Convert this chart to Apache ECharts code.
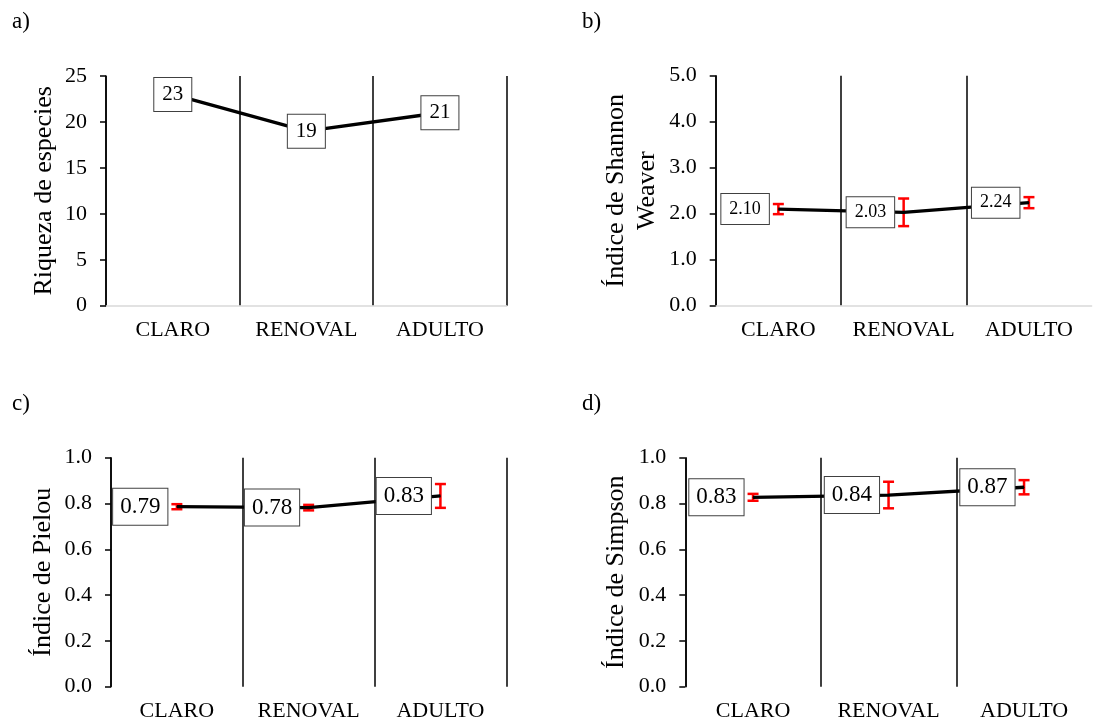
<!DOCTYPE html>
<html><head><meta charset="utf-8">
<script src="https://cdn.jsdelivr.net/npm/echarts@6/dist/echarts.min.js"></script>
<style>html,body{margin:0;padding:0;background:#fff}#c{width:1094px;height:728px}</style>
</head><body><div id="c"></div>
<script>
// ---- data ----
const categories = ['CLARO', 'RENOVAL', 'ADULTO'];
const riqueza = [23, 19, 21];
const shannon = [2.10, 2.03, 2.24];
const shannonErr = [0.11, 0.30, 0.12];
const pielou = [0.786, 0.782, 0.833];
const pielouErr = [0.011, 0.012, 0.052];
const simpson = [0.827, 0.837, 0.871];
const simpsonErr = [0.015, 0.058, 0.031];
const panelLetters = ['a)', 'b)', 'c)', 'd)'];
const yTitles = ['Riqueza de especies', 'Índice de Shannon\nWeaver', 'Índice de Pielou', 'Índice de Simpson'];
const yRanges = [[0, 25, 5], [0, 5, 1], [0, 1, 0.2], [0, 1, 0.2]];
const yDecimals = [0, 1, 1, 1];

// ---- layout ----
const FONT = '"Liberation Serif","Times New Roman",serif';
const grids = [
  {left: 106, top: 76, width: 400.7, height: 229.7},
  {left: 715.7, top: 75.7, width: 375.9, height: 230},
  {left: 111, top: 457.7, width: 395.3, height: 229},
  {left: 685.3, top: 457.7, width: 406.5, height: 229}
];
const showXLine = [true, true, false, false];
const showMaxGrid = [true, false, true, false];
const nameGaps = [46, 53, 52, 54];
const letterPos = [[12, 22], [582, 22], [12, 404], [582, 404]];

function errRender(params, api) {
  const x = api.value(0);
  const lo = api.coord([x, api.value(1)]);
  const hi = api.coord([x, api.value(2)]);
  const w = 5.5;
  const style = {stroke: '#ff0000', lineWidth: 2.5, fill: null};
  return {type: 'group', children: [
    {type: 'line', shape: {x1: lo[0], y1: lo[1], x2: hi[0], y2: hi[1]}, style: style},
    {type: 'line', shape: {x1: lo[0] - w, y1: lo[1], x2: lo[0] + w, y2: lo[1]}, style: style},
    {type: 'line', shape: {x1: hi[0] - w, y1: hi[1], x2: hi[0] + w, y2: hi[1]}, style: style}
  ]};
}

const xAxes = grids.map((g, i) => ({
  type: 'category', gridIndex: i, data: categories, boundaryGap: true,
  axisLine: {show: showXLine[i], lineStyle: {color: '#d9d9d9', width: 1.5}},
  axisTick: {show: false, interval: 0},
  axisLabel: {color: '#000', fontFamily: FONT, fontSize: 22, margin: 14, interval: 0, hideOverlap: false},
  splitLine: {show: true, interval: 0, showMinLine: true, showMaxLine: showMaxGrid[i], lineStyle: {color: '#000', width: 1.5}}
}));

const yAxes = grids.map((g, i) => ({
  type: 'value', gridIndex: i, min: yRanges[i][0], max: yRanges[i][1], interval: yRanges[i][2],
  name: yTitles[i], nameLocation: 'middle', nameGap: nameGaps[i], nameRotate: 90,
  nameTextStyle: {color: '#000', fontFamily: FONT, fontSize: 26, lineHeight: 31},
  axisLine: {show: true, lineStyle: {color: '#000', width: 1.5}},
  axisTick: {show: true, inside: false, length: 6, lineStyle: {color: '#000', width: 1.5}},
  axisLabel: {color: '#000', fontFamily: FONT, fontSize: 22, margin: 19,
    formatter: v => v.toFixed(yDecimals[i])},
  splitLine: {show: false}
}));

const values = [riqueza, shannon, pielou, simpson];
const errs = [null, shannonErr, pielouErr, simpsonErr];
const labelFont = [21, 18, 23, 23];
const labelPad = [[6, 8], [6, 8], [6.5, 7], [6.5, 7]];

const series = [];
values.forEach((vals, i) => {
  if (errs[i]) {
    series.push({
      type: 'custom', xAxisIndex: i, yAxisIndex: i, z: 2,
      renderItem: errRender,
      encode: {x: 0, y: [1, 2]},
      data: vals.map((v, k) => [k, v - errs[i][k], v + errs[i][k]])
    });
  }
  series.push({
    type: 'line', xAxisIndex: i, yAxisIndex: i, z: 3,
    data: vals, symbol: 'circle', symbolSize: 1, showSymbol: true,
    itemStyle: {color: '#000'},
    lineStyle: {color: '#000', width: 3.3},
    label: {
      show: true,
      position: i === 0 ? 'inside' : 'left',
      distance: 9,
      formatter: p => i === 0 ? String(p.value) : p.value.toFixed(2),
      color: '#000', fontFamily: FONT, fontSize: labelFont[i],
      backgroundColor: '#fff', borderColor: '#404040', borderWidth: 1,
      padding: labelPad[i]
    },
    emphasis: {disabled: true},
    silent: true
  });
});

const graphic = panelLetters.map((t, i) => ({
  type: 'text', left: letterPos[i][0], top: letterPos[i][1] - 12,
  style: {text: t, fontFamily: FONT, fontSize: 23, fill: '#000'}
}));

const chart = echarts.init(document.getElementById('c'), null, {renderer: 'canvas'});
chart.setOption({
  animation: false,
  backgroundColor: '#fff',
  grid: grids,
  xAxis: xAxes,
  yAxis: yAxes,
  series: series,
  graphic: graphic
});
</script></body></html>
